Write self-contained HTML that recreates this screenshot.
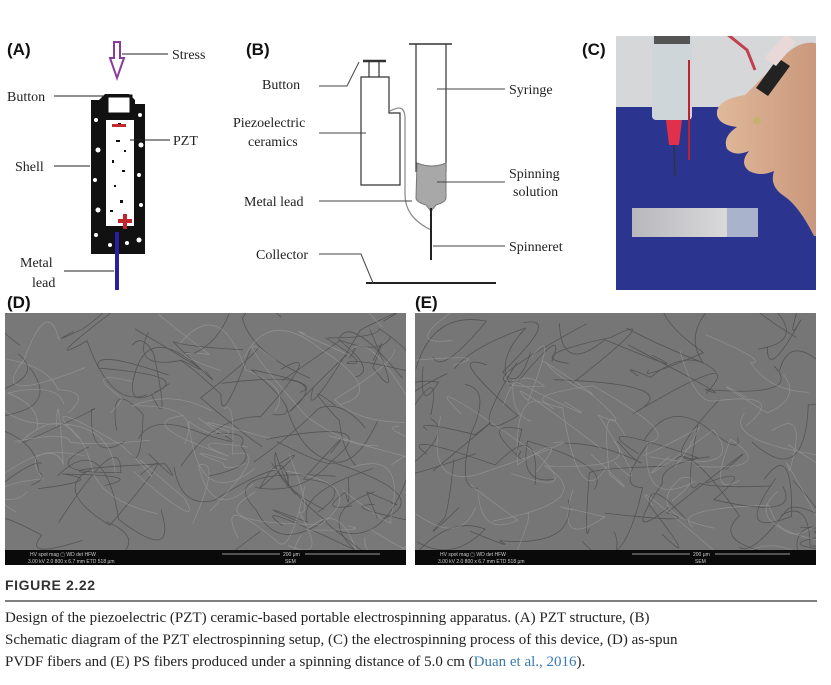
<!DOCTYPE html>
<html><head><meta charset="utf-8"><style>
body{margin:0;background:#fff;width:831px;height:685px;overflow:hidden;position:relative;font-family:"Liberation Serif",serif}
.t{position:absolute;font-size:15px;color:#222;line-height:20px}
</style></head><body>
<svg width="831" height="685" style="position:absolute;left:0;top:0" font-family="Liberation Serif" font-size="14" fill="#222">
<defs>
<clipPath id="cd"><rect x="5" y="313" width="401" height="237"/></clipPath>
<clipPath id="ce"><rect x="415" y="313" width="401" height="237"/></clipPath>
<clipPath id="cc"><rect x="616" y="36" width="200" height="254"/></clipPath>
<linearGradient id="hand" x1="0" y1="0" x2="1" y2="0"><stop offset="0" stop-color="#e0b89a"/><stop offset="1" stop-color="#c8957a"/></linearGradient>
<linearGradient id="sl" x1="0" y1="0" x2="1" y2="0"><stop offset="0" stop-color="#b8b8bc"/><stop offset="1" stop-color="#e4e4e6"/></linearGradient>
</defs>
<g font-family="Liberation Sans" font-weight="bold" font-size="17" fill="#111">
<text x="7" y="55">(A)</text><text x="246" y="55">(B)</text><text x="582" y="55">(C)</text>
<text x="7" y="308">(D)</text><text x="415" y="308">(E)</text></g>
<!-- Panel A -->
<path d="M114 42h6v16h4l-7 20-7-20h4z" fill="#fff" stroke="#8a3c9a" stroke-width="2"/>
<line x1="122" y1="54" x2="168" y2="54" stroke="#222"/><text x="172" y="59">Stress</text>
<path d="M91 100h8l6-6h24l6 6v4h10v150h-54z" fill="#111"/>
<g fill="#fff"><circle cx="96" cy="120" r="2"/><circle cx="98" cy="150" r="2.5"/><circle cx="95" cy="180" r="2"/><circle cx="98" cy="210" r="2.5"/><circle cx="96" cy="235" r="2"/><circle cx="140" cy="115" r="2"/><circle cx="141" cy="145" r="2.5"/><circle cx="139" cy="175" r="2"/><circle cx="141" cy="205" r="2"/><circle cx="139" cy="240" r="2.5"/><circle cx="110" cy="245" r="2"/><circle cx="127" cy="243" r="2"/></g>
<rect x="107" y="96" width="24" height="18" fill="#fff" stroke="#111" stroke-width="3"/>
<rect x="106" y="120" width="28" height="106" fill="#fff"/>
<g fill="#111"><rect x="116" y="140" width="4" height="2"/><rect x="112" y="160" width="2" height="3"/><rect x="122" y="170" width="3" height="2"/><rect x="114" y="185" width="2" height="2"/><rect x="120" y="200" width="3" height="3"/><rect x="110" y="210" width="3" height="2"/><rect x="124" y="150" width="2" height="2"/><rect x="118" y="123" width="3" height="2"/></g>
<rect x="112" y="124" width="14" height="3" fill="#c0282e"/>
<path d="M118 221h14M125 214v15" stroke="#c0282e" stroke-width="4"/>
<line x1="117" y1="232" x2="117" y2="290" stroke="#2a1fa0" stroke-width="4"/>
<line x1="54" y1="96" x2="104" y2="96" stroke="#222"/><text x="7" y="101">Button</text>
<line x1="130" y1="140" x2="170" y2="140" stroke="#222"/><text x="173" y="145">PZT</text>
<line x1="54" y1="166" x2="90" y2="166" stroke="#222"/><text x="15" y="171">Shell</text>
<line x1="64" y1="271" x2="114" y2="271" stroke="#222"/><text x="20" y="267">Metal</text><text x="32" y="287">lead</text>
<!-- Panel B -->
<g stroke="#333" fill="none" stroke-width="1.2">
<line x1="363" y1="61" x2="386" y2="61" stroke-width="2.5"/><line x1="369" y1="61" x2="369" y2="77"/><line x1="379" y1="61" x2="379" y2="77"/>
<path d="M361 77h28v36h11v72h-39z"/>
<line x1="409" y1="44" x2="452" y2="44" stroke-width="1.5"/>
<path d="M416 44v128M446 44v128"/>
<path d="M390 111c8-4 15-6 15 8v75c0 14 6 26 26 36" stroke="#888"/>
</g>
<path d="M417 163q15 6 29 0v35q0 4-10 7l-4 5h-2l-4-5q-10-3-10-7z" fill="#a8a8a8" stroke="#777"/>
<line x1="431" y1="208" x2="431" y2="260" stroke="#222" stroke-width="2"/>
<line x1="366" y1="283" x2="496" y2="283" stroke="#222" stroke-width="2"/>
<g stroke="#444" fill="none">
<path d="M319 86h28l12-24"/><line x1="319" y1="133" x2="366" y2="133"/>
<line x1="319" y1="201" x2="412" y2="201"/><line x1="437" y1="89" x2="505" y2="89"/>
<line x1="437" y1="182" x2="505" y2="182"/><line x1="433" y1="246" x2="505" y2="246"/>
<path d="M319 254h42l12 29"/></g>
<text x="262" y="89">Button</text><text x="233" y="127">Piezoelectric</text><text x="248" y="146">ceramics</text>
<text x="244" y="206">Metal lead</text><text x="256" y="259">Collector</text>
<text x="509" y="94">Syringe</text><text x="509" y="178">Spinning</text><text x="513" y="196">solution</text><text x="509" y="251">Spinneret</text>
<!-- Panel C photo -->
<g clip-path="url(#cc)">
<rect x="616" y="36" width="200" height="254" fill="#2b358f"/>
<rect x="616" y="36" width="200" height="71" fill="#d6d7d9"/>
<rect x="652" y="36" width="40" height="84" rx="4" fill="#cfd6da"/>
<rect x="654" y="36" width="36" height="8" fill="#555"/>
<line x1="689" y1="60" x2="689" y2="160" stroke="#c02030" stroke-width="2"/>
<path d="M666 120h16l-3 25h-10z" fill="#e0304a"/>
<line x1="674" y1="145" x2="675" y2="176" stroke="#333" stroke-width="1.2"/>
<path d="M722 30l25 20 8 20" stroke="#c04050" stroke-width="3" fill="none"/>
<path d="M745 95q-30 5-28 20q2 10 20 12q-15 10-10 22q8 8 22 2q-10 12 0 20q12 6 25 0q-5 15 10 25q15 10 30 40h10v-190q-20-10-40 10z" fill="url(#hand)"/>
<path d="M756 88l22-30l12 8-22 30z" fill="#222"/><path d="M764 58l22-24l10 8-20 24z" fill="#e8d8d8"/>
<circle cx="757" cy="121" r="4" fill="#c8b070"/>
<path d="M632 208h126v29h-126z" fill="url(#sl)"/><path d="M727 208h31v29h-31z" fill="#a9b4cc"/>
</g>
<!-- SEM -->
<rect x="5" y="313" width="401" height="237" fill="#787878"/>
<rect x="415" y="313" width="401" height="237" fill="#767676"/>
<g clip-path="url(#cd)"><g id="fd1" fill="none" stroke="#3e3e3e" stroke-width=".8" opacity=".6"></g><g id="fd2" fill="none" stroke="#b8b8b8" stroke-width=".7" opacity=".4"></g></g>
<g clip-path="url(#ce)"><g id="fe1" fill="none" stroke="#3e3e3e" stroke-width=".8" opacity=".6"></g><g id="fe2" fill="none" stroke="#b8b8b8" stroke-width=".7" opacity=".4"></g></g>
<rect x="5" y="550" width="401" height="15" fill="#0a0a0a"/><rect x="415" y="550" width="401" height="15" fill="#0a0a0a"/>
<g font-family="Liberation Sans" font-size="5" fill="#ccc">
<text x="30" y="556">HV  spot  mag ▢  WD   det  HFW</text><text x="28" y="563">3.00 kV  2.0  800 x  6.7 mm  ETD  518 μm</text>
<text x="283" y="556">200 μm</text><text x="285" y="563">SEM</text>
<text x="440" y="556">HV  spot  mag ▢  WD   det  HFW</text><text x="438" y="563">3.00 kV  2.0  800 x  6.7 mm  ETD  518 μm</text>
<text x="693" y="556">200 μm</text><text x="695" y="563">SEM</text></g>
<g stroke="#ccc" stroke-width=".8"><line x1="222" y1="554" x2="280" y2="554"/><line x1="305" y1="554" x2="380" y2="554"/><line x1="632" y1="554" x2="690" y2="554"/><line x1="715" y1="554" x2="790" y2="554"/></g>
<text x="5" y="590" font-family="Liberation Sans" font-weight="bold" font-size="14" fill="#333" textLength="90">FIGURE 2.22</text>
<line x1="5" y1="601" x2="817" y2="601" stroke="#333" stroke-width="1.2"/>
</svg>
<div class="t" style="left:5px;top:608px">Design of the piezoelectric (PZT) ceramic-based portable electrospinning apparatus. (A) PZT structure, (B)</div>
<div class="t" style="left:5px;top:630px">Schematic diagram of the PZT electrospinning setup, (C) the electrospinning process of this device, (D) as-spun</div>
<div class="t" style="left:5px;top:652px">PVDF fibers and (E) PS fibers produced under a spinning distance of 5.0 cm (<span style="color:#3a7ab0">Duan et al., 2016</span>).</div>
<script>
(function(){var ns="http://www.w3.org/2000/svg",s=7;function r(){s=(s*16807)%2147483647;return s/2147483647;}
function draw(id,b,n){var g=document.getElementById(id);for(var i=0;i<n;i++){var x=b[0]+r()*(b[1]-b[0]),y=313+r()*237;var d="M"+x.toFixed(1)+" "+y.toFixed(1);for(var k=0;k<2;k++){var cx=x+(r()-.5)*120,cy=y+(r()-.5)*100;x=x+(r()-.5)*160;y=y+(r()-.5)*120;d+=" Q"+cx.toFixed(1)+" "+cy.toFixed(1)+" "+x.toFixed(1)+" "+y.toFixed(1);}var p=document.createElementNS(ns,"path");p.setAttribute("d",d);g.appendChild(p);}}
draw("fd1",[5,406],55);draw("fd2",[5,406],35);draw("fe1",[415,816],45);draw("fe2",[415,816],30);})();
</script>
</body></html>
